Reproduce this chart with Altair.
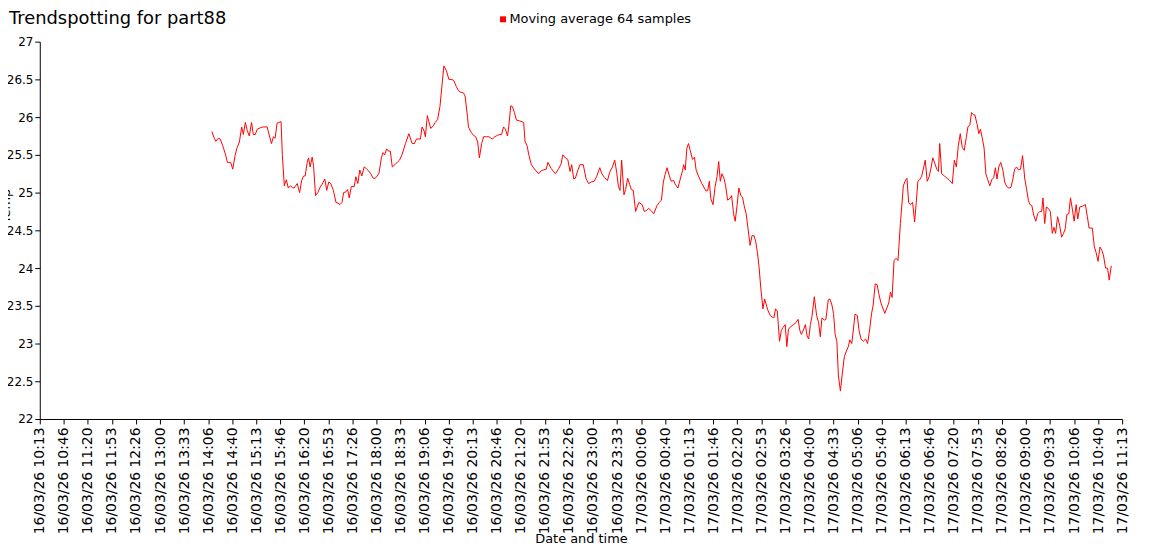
import json
import altair as alt
import pandas as pd

# Minutes elapsed since 16/03/26 10:13:30 and the 64-sample moving average
minutes = [
    238.5, 241.8, 244.0, 247.3, 250.0, 253.6, 256.9, 260.1, 264.6, 267.4, 270.7, 272.9, 276.6, 279.8, 282.1,
    284.9, 287.6, 290.4, 293.5, 295.9, 298.6, 301.4, 305.9, 309.6, 315.1, 318.3, 321.1, 323.8, 326.1, 328.9,
    331.6, 334.4, 336.2, 338.9, 341.7, 344.4, 347.2, 350.0, 352.3, 354.6, 356.8, 360.1, 362.9, 365.6, 367.8,
    370.6, 372.5, 374.7, 377.5, 379.4, 382.2, 385.3, 388.5, 391.2, 395.0, 397.7, 400.5, 403.2, 406.9, 410.5,
    413.3, 416.0, 418.8, 421.1, 424.3, 426.6, 428.9, 431.7, 435.8, 438.0, 440.8, 443.5, 446.3, 449.6, 452.3,
    455.5, 458.7, 462.0, 464.7, 466.9, 470.2, 473.4, 475.7, 478.0, 480.7, 483.0, 485.8, 488.5, 493.1, 498.6,
    502.3, 506.8, 511.5, 516.1, 519.2, 522.0, 525.3, 527.5, 529.8, 532.2, 534.4, 537.1, 539.0, 541.8, 545.0,
    548.1, 551.4, 554.6, 557.3, 560.1, 563.3, 567.0, 570.1, 573.4, 577.0, 580.3, 583.5, 587.2, 589.4, 592.7,
    594.1, 597.7, 601.0, 604.1, 606.9, 609.2, 612.4, 615.1, 619.3, 622.4, 627.1, 630.7, 634.4, 637.6, 639.9,
    642.7, 645.4, 648.2, 649.9, 652.7, 655.0, 657.8, 660.6, 665.1, 670.6, 672.5, 675.3, 678.0, 681.2, 685.7,
    691.2, 695.0, 698.1, 701.8, 704.2, 708.7, 714.6, 719.3, 722.5, 724.8, 728.4, 731.7, 734.9, 737.2, 740.0,
    742.2, 745.5, 748.6, 753.2, 756.9, 760.6, 764.2, 768.3, 771.6, 776.1, 778.9, 782.6, 786.7, 789.9, 793.6,
    796.8, 799.5, 801.9, 804.1, 806.4, 809.6, 811.9, 814.7, 817.4, 819.8, 822.5, 825.7, 830.2, 834.9, 837.7,
    840.4, 844.0, 847.3, 850.9, 855.5, 858.7, 861.5, 864.2, 866.6, 869.3, 872.5, 875.2, 878.4, 880.7, 884.4,
    887.6, 890.8, 892.2, 894.5, 896.8, 899.0, 901.4, 904.5, 907.3, 909.6, 912.8, 917.5, 923.4, 925.7, 927.9,
    929.9, 933.0, 935.8, 938.5, 940.9, 943.1, 945.4, 948.2, 950.5, 953.2, 956.4, 958.8, 961.5, 963.7, 966.5,
    968.8, 971.6, 973.9, 976.1, 978.9, 981.6, 984.4, 987.1, 989.9, 992.2, 994.5, 996.8, 999.1, 1002.2, 1004.6,
    1006.9, 1009.1, 1012.4, 1015.2, 1017.4, 1019.7, 1022.1, 1025.2, 1027.6, 1029.8, 1033.1, 1035.3, 1037.6,
    1041.3, 1044.5, 1048.2, 1050.9, 1053.2, 1055.5, 1058.3, 1061.0, 1063.4, 1065.6, 1067.9, 1070.2, 1073.4,
    1076.6, 1079.3, 1081.7, 1084.0, 1087.2, 1089.5, 1092.7, 1095.0, 1097.8, 1100.0, 1102.3, 1104.6, 1106.8,
    1109.6, 1112.3, 1115.1, 1117.9, 1120.6, 1122.5, 1125.3, 1127.5, 1129.8, 1133.0, 1135.3, 1138.1, 1141.2,
    1144.5, 1147.3, 1150.0, 1152.8, 1155.0, 1157.8, 1160.5, 1162.8, 1165.6, 1168.3, 1171.1, 1173.9, 1176.6,
    1178.9, 1181.2, 1183.9, 1186.7, 1189.4, 1192.7, 1196.8, 1199.6, 1201.8, 1204.1, 1206.9, 1209.6, 1212.4,
    1214.7, 1216.9, 1219.3, 1222.0, 1224.4, 1227.1, 1229.9, 1232.6, 1234.8, 1237.6, 1240.3, 1243.1, 1245.4,
    1247.2, 1249.9, 1253.6, 1257.4, 1261.0, 1264.7, 1267.4, 1270.2, 1272.9, 1275.7, 1278.4, 1281.2, 1284.0,
    1286.3, 1289.0, 1291.3, 1294.0, 1295.9, 1299.1, 1301.4, 1303.6, 1306.0, 1308.7, 1311.1, 1313.8, 1316.6,
    1319.3, 1322.1, 1324.3, 1326.6, 1329.0, 1331.7, 1334.5, 1337.2, 1340.0, 1343.1, 1345.9, 1348.6, 1351.0,
    1353.7, 1356.5, 1359.2, 1362.0, 1365.1, 1367.5, 1370.2, 1372.4, 1374.8, 1377.5, 1380.3, 1383.0, 1385.8,
    1388.5, 1390.3, 1392.7, 1395.0, 1397.7, 1400.5, 1403.2, 1405.5, 1407.8, 1410.5, 1413.3, 1416.1, 1418.8,
    1421.1, 1423.4, 1426.1, 1428.4, 1431.2, 1433.5, 1436.3, 1438.5, 1441.3, 1445.0, 1449.1, 1451.8, 1454.2,
    1458.7, 1461.5, 1463.8, 1466.6, 1469.3, 1472.1, 1474.3, 1477.0, 1479.8, 1482.1, 1484.9,
]

values = [
    25.81, 25.72, 25.68, 25.72, 25.71, 25.62, 25.52, 25.40, 25.40, 25.31, 25.49, 25.58, 25.67, 25.87, 25.77,
    25.93, 25.82, 25.75, 25.93, 25.77, 25.77, 25.84, 25.86, 25.87, 25.87, 25.75, 25.65, 25.74, 25.72, 25.92,
    25.93, 25.94, 25.49, 25.09, 25.17, 25.06, 25.09, 25.07, 25.06, 25.09, 25.12, 25.00, 25.16, 25.22, 25.22,
    25.40, 25.46, 25.34, 25.47, 25.36, 24.96, 25.00, 25.07, 25.11, 25.18, 25.03, 25.14, 25.12, 25.03, 24.87,
    24.86, 24.84, 24.87, 25.00, 25.01, 25.04, 24.93, 25.08, 25.08, 25.21, 25.12, 25.30, 25.22, 25.34, 25.32,
    25.29, 25.25, 25.19, 25.19, 25.21, 25.26, 25.46, 25.53, 25.50, 25.58, 25.55, 25.55, 25.34, 25.38, 25.43,
    25.51, 25.65, 25.78, 25.65, 25.65, 25.71, 25.71, 25.71, 25.87, 25.83, 25.74, 26.02, 25.95, 25.85, 25.88,
    25.93, 25.97, 26.14, 26.41, 26.68, 26.62, 26.50, 26.50, 26.49, 26.41, 26.35, 26.33, 26.32, 26.28, 26.01,
    25.87, 25.80, 25.76, 25.74, 25.67, 25.46, 25.65, 25.74, 25.74, 25.74, 25.71, 25.74, 25.76, 25.77, 25.77,
    25.87, 25.84, 25.75, 25.87, 26.15, 26.14, 26.06, 25.96, 25.95, 25.93, 25.68, 25.62, 25.49, 25.37, 25.31,
    25.25, 25.29, 25.30, 25.31, 25.40, 25.32, 25.25, 25.32, 25.38, 25.50, 25.46, 25.44, 25.28, 25.37, 25.18,
    25.19, 25.29, 25.37, 25.37, 25.19, 25.12, 25.14, 25.15, 25.21, 25.33, 25.25, 25.20, 25.16, 25.27, 25.34,
    25.43, 25.27, 25.08, 25.03, 25.43, 24.97, 25.04, 25.19, 25.11, 25.04, 25.03, 24.75, 24.87, 24.84, 24.75,
    24.76, 24.79, 24.76, 24.72, 24.83, 24.87, 24.90, 25.14, 25.24, 25.33, 25.22, 25.15, 25.16, 25.11, 25.06,
    25.18, 25.29, 25.37, 25.30, 25.59, 25.65, 25.56, 25.44, 25.47, 25.30, 25.22, 25.12, 25.02, 25.03, 25.15,
    24.92, 24.84, 25.07, 25.21, 25.41, 25.15, 25.25, 25.19, 25.09, 24.90, 24.92, 24.96, 24.72, 24.62, 24.84,
    25.06, 24.96, 24.94, 24.83, 24.72, 24.52, 24.30, 24.43, 24.43, 24.35, 24.21, 24.02, 23.75, 23.46, 23.59,
    23.51, 23.44, 23.37, 23.35, 23.34, 23.46, 23.43, 23.03, 23.17, 23.21, 23.25, 22.96, 23.19,
    23.23, 23.25, 23.28, 23.32, 23.18, 23.12, 23.18, 23.25, 23.10, 23.06, 23.25, 23.36, 23.62,
    23.37, 23.28, 23.09, 23.34, 23.31, 23.32, 23.58, 23.59, 23.51, 23.40, 23.12, 23.03, 22.57,
    22.37, 22.61, 22.83, 22.90, 22.96, 23.05, 23.00, 23.18, 23.39, 23.37, 23.18, 23.06, 23.03,
    23.06, 23.00, 23.18, 23.40, 23.51, 23.79, 23.78, 23.66, 23.54, 23.47, 23.40, 23.47, 23.54,
    23.68, 23.61, 24.10, 24.13, 24.10, 24.59, 25.09, 25.16, 25.19, 24.87, 24.84, 24.87, 24.61,
    24.87, 25.15, 25.17, 25.21, 25.31, 25.43, 25.15, 25.21, 25.31, 25.46, 25.39, 25.31, 25.28,
    25.65, 25.25, 25.22, 25.19, 25.16, 25.12, 25.43, 25.34, 25.62, 25.78, 25.60, 25.56, 25.73,
    25.87, 25.90, 26.06, 26.03, 26.03, 25.90, 25.78, 25.84, 25.73, 25.59, 25.25, 25.17, 25.09,
    25.17, 25.20, 25.33, 25.18, 25.34, 25.40, 25.31, 25.14, 25.08, 25.06, 25.07, 25.18, 25.31,
    25.34, 25.30, 25.31, 25.49, 25.18, 25.05, 24.89, 24.84, 24.83, 24.70, 24.62, 24.72, 24.75,
    24.75, 24.93, 24.59, 24.81, 24.79, 24.75, 24.46, 24.54, 24.46, 24.68, 24.57, 24.41, 24.46,
    24.52, 24.71, 24.72, 24.93, 24.77, 24.62, 24.84, 24.65, 24.81, 24.82, 24.84, 24.68, 24.53,
    24.53, 24.28, 24.21, 24.09, 24.28, 24.23, 24.16, 24.00, 24.00, 23.84, 24.03,
]

series_name = "Moving average 64 samples"

tick_labels = [
    "16/03/26 10:13", "16/03/26 10:46", "16/03/26 11:20", "16/03/26 11:53", "16/03/26 12:26",
    "16/03/26 13:00", "16/03/26 13:33", "16/03/26 14:06", "16/03/26 14:40", "16/03/26 15:13",
    "16/03/26 15:46", "16/03/26 16:20", "16/03/26 16:53", "16/03/26 17:26", "16/03/26 18:00",
    "16/03/26 18:33", "16/03/26 19:06", "16/03/26 19:40", "16/03/26 20:13", "16/03/26 20:46",
    "16/03/26 21:20", "16/03/26 21:53", "16/03/26 22:26", "16/03/26 23:00", "16/03/26 23:33",
    "17/03/26 00:06", "17/03/26 00:40", "17/03/26 01:13", "17/03/26 01:46", "17/03/26 02:20",
    "17/03/26 02:53", "17/03/26 03:26", "17/03/26 04:00", "17/03/26 04:33", "17/03/26 05:06",
    "17/03/26 05:40", "17/03/26 06:13", "17/03/26 06:46", "17/03/26 07:20", "17/03/26 07:53",
    "17/03/26 08:26", "17/03/26 09:00", "17/03/26 09:33", "17/03/26 10:06", "17/03/26 10:40",
    "17/03/26 11:13",
]
total_minutes = 1500.0
y_ticks = [22, 22.5, 23, 23.5, 24, 24.5, 25, 25.5, 26, 26.5, 27]

step = total_minutes / (len(tick_labels) - 1)
x_tick_values = [i * step for i in range(len(tick_labels))]
label_expr = json.dumps(tick_labels) + "[round(datum.value / " + repr(step) + ")]"

df = pd.DataFrame({"minutes": minutes, "value": values, "series": series_name})

FONT = "DejaVu Sans"

chart = (
    alt.Chart(df)
    .mark_line(strokeWidth=1, clip=True)
    .encode(
        x=alt.X(
            "minutes:Q",
            scale=alt.Scale(domain=[0, total_minutes], nice=False, zero=False),
            axis=alt.Axis(
                title="Date and time",
                values=x_tick_values,
                labelExpr=label_expr,
                labelAngle=-90,
                labelFontSize=14,
                labelPadding=3,
                labelOverlap=False,
                labelFlush=False,
                tickSize=5,
                grid=False,
                titleFontSize=13,
                titleFontWeight="normal",
                titleY=124,
                titleBaseline="alphabetic",
            ),
        ),
        y=alt.Y(
            "value:Q",
            scale=alt.Scale(domain=[22, 27], nice=False, zero=False),
            axis=alt.Axis(
                title="Temp",
                values=y_ticks,
                labelExpr="'' + datum.value",
                labelFontSize=12,
                labelPadding=2,
                tickSize=5,
                grid=False,
                titleFontSize=13,
                titleFontWeight="normal",
                titleX=-30,
                titleY=165,
                titleBaseline="alphabetic",
            ),
        ),
        color=alt.Color(
            "series:N",
            scale=alt.Scale(range=["#ff0000"]),
            legend=alt.Legend(
                title=None,
                orient="none",
                legendX=460,
                legendY=-29,
                symbolType="square",
                symbolSize=36,
                symbolFillColor="#ff0000",
                symbolStrokeColor="#ff0000",
                symbolStrokeWidth=0,
                labelFontSize=13,
                labelFont=FONT,
                labelColor="black",
                labelOffset=0,
                labelLimit=400,
                padding=0,
            ),
        ),
    )
    .properties(
        width=1090,
        height=380,
        autosize=alt.AutoSizeParams(type="none"),
        padding={"left": 32, "top": 32, "right": 20, "bottom": 126},
        title=alt.TitleParams(
            "Trendspotting for part88",
            anchor="start",
            frame="group",
            dx=-31,
            dy=37,
            fontSize=18,
            fontWeight="normal",
            font=FONT,
            color="black",
            baseline="alphabetic",
            offset=8,
        ),
    )
    .configure(font=FONT, background="white")
    .configure_view(strokeWidth=0)
    .configure_axis(
        domainColor="black",
        tickColor="black",
        labelColor="black",
        titleColor="black",
        labelFont=FONT,
        titleFont=FONT,
    )
)

chart.save("out.html", embed_options={"renderer": "svg", "actions": False})
